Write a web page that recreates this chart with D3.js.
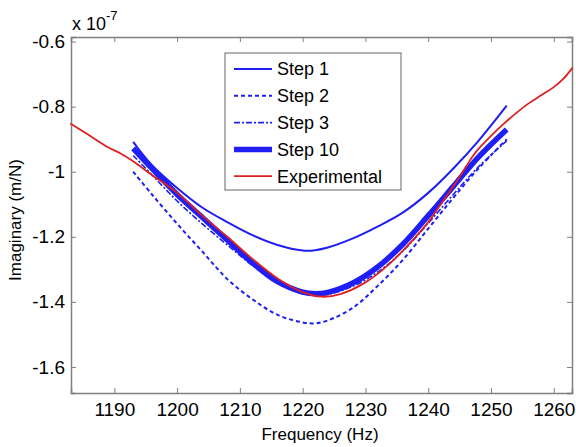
<!DOCTYPE html>
<html><head><meta charset="utf-8">
<script src="https://cdn.jsdelivr.net/npm/d3@7"></script>
<style>body{margin:0;background:#fff}text{font-family:"Liberation Sans",Arial,sans-serif}</style>
</head><body><svg id="c" width="576" height="447"></svg>
<script>
const xTicks = [1190,1200,1210,1220,1230,1240,1250,1260];
const yTicks = [-0.6,-0.8,-1,-1.2,-1.4,-1.6];
const yTickLabels = ["-0.6","-0.8","-1","-1.2","-1.4","-1.6"];
const seriesNames = ["Step 1","Step 2","Step 3","Step 10","Experimental"];

const freqStep = [1193,1196,1200,1204,1208,1212,1216,1220,1222,1224,1228,1232,1236,1240,1244,1248,1252.5];
const step1  = [-0.908,-0.98,-1.05,-1.11,-1.155,-1.195,-1.225,-1.242,-1.241,-1.233,-1.205,-1.168,-1.125,-1.065,-0.99,-0.905,-0.797];
const step2  = [-1.0,-1.07,-1.16,-1.245,-1.33,-1.392,-1.44,-1.463,-1.466,-1.457,-1.418,-1.35,-1.27,-1.175,-1.08,-0.99,-0.9];
const step3  = [-0.95,-1.01,-1.09,-1.16,-1.225,-1.288,-1.342,-1.374,-1.38,-1.377,-1.352,-1.308,-1.243,-1.158,-1.07,-0.985,-0.905];
const step10 = [-0.928,-0.99,-1.07,-1.14,-1.21,-1.28,-1.338,-1.37,-1.375,-1.371,-1.342,-1.292,-1.222,-1.135,-1.045,-0.955,-0.87];

const freqExp = [1183,1186,1189,1191,1193,1196,1200,1204,1208,1212,1216,1220,1223,1226,1230,1234,1238,1240,1242,1244,1246,1247,1248,1250,1252,1254,1256,1258,1260,1261.5,1263];
const experimental = [-0.852,-0.888,-0.925,-0.944,-0.968,-1.01,-1.065,-1.135,-1.2,-1.268,-1.328,-1.37,-1.384,-1.376,-1.34,-1.28,-1.2,-1.155,-1.1,-1.045,-0.985,-0.955,-0.93,-0.89,-0.853,-0.82,-0.79,-0.765,-0.74,-0.715,-0.68];

const svg = d3.select("#c");
const L=71,R=572,T=37,B=393;
const x = d3.scaleLinear().domain([1183.1,1262.9]).range([L,R]);
const y = d3.scaleLinear().domain([-1.68,-0.586]).range([B,T]);
const axisCol = "#808080";

// axes box with inward ticks
const gx = svg.append("g").attr("transform",`translate(0,${B})`)
  .call(d3.axisBottom(x).tickValues(xTicks).tickSize(-5).tickPadding(10).tickFormat(d3.format("d")));
const gxt = svg.append("g").attr("transform",`translate(0,${T})`)
  .call(d3.axisTop(x).tickValues(xTicks).tickSize(-5).tickFormat(""));
const gy = svg.append("g").attr("transform",`translate(${L},0)`)
  .call(d3.axisLeft(y).tickValues(yTicks).tickSize(-5).tickPadding(6).tickFormat((d,i)=>yTickLabels[i]));
const gyr = svg.append("g").attr("transform",`translate(${R},0)`)
  .call(d3.axisRight(y).tickValues(yTicks).tickSize(-5).tickFormat(""));
[gx,gxt,gy,gyr].forEach(g=>{
  g.select(".domain").attr("stroke",axisCol).attr("stroke-width",1.5);
  g.selectAll(".tick line").attr("stroke",axisCol);
  g.selectAll("text").attr("fill","#000").style("font-size","19px").style("font-family","Liberation Sans, Arial, sans-serif");
});
gx.selectAll("text").attr("dy","0.71em");

// lines
const mk = (xs,ys)=>xs.map((f,i)=>[f,ys[i]]);
const line = d3.line().x(d=>x(d[0])).y(d=>y(d[1])).curve(d3.curveCatmullRom.alpha(0.5));
const blue = "#1e1ef5", red = "#dd2020";
const styles = [
  {data:mk(freqStep,step1), color:blue, w:2, dash:null},
  {data:mk(freqStep,step2), color:blue, w:2, dash:"4,3"},
  {data:mk(freqStep,step3), color:blue, w:1.6, dash:"6,2,2,2"},
  {data:mk(freqStep,step10), color:blue, w:5.5, dash:null},
  {data:mk(freqExp,experimental), color:red, w:1.8, dash:null}
];
const plot = svg.append("g");
styles.forEach(s=>{
  plot.append("path").attr("d",line(s.data)).attr("fill","none")
    .attr("stroke",s.color).attr("stroke-width",s.w)
    .attr("stroke-dasharray",s.dash).attr("stroke-linejoin","round");
});

// legend
const lg = svg.append("g");
lg.append("rect").attr("x",225).attr("y",53).attr("width",176).attr("height",137)
  .attr("fill","#fff").attr("stroke","#666").attr("stroke-width",1);
seriesNames.forEach((n,i)=>{
  const yy = 69 + i*26.8;
  const s = styles[i];
  lg.append("line").attr("x1",234).attr("x2",272).attr("y1",yy).attr("y2",yy)
    .attr("stroke",s.color).attr("stroke-width",s.w).attr("stroke-dasharray",s.dash);
  lg.append("text").attr("x",277).attr("y",yy).attr("dy","0.36em").text(n)
    .style("font-size","18px");
});

// labels
svg.append("text").attr("x",320).attr("y",440).attr("text-anchor","middle")
  .style("font-size","17px").text("Frequency (Hz)");
svg.append("text").attr("transform","translate(21,220) rotate(-90)").attr("text-anchor","middle")
  .style("font-size","17px").text("Imaginary (m/N)");
const ex = svg.append("text").attr("x",72).attr("y",30).style("font-size","18px");
ex.append("tspan").text("x 10");
ex.append("tspan").attr("dy",-10).style("font-size","13px").text("-7");
</script></body></html>
